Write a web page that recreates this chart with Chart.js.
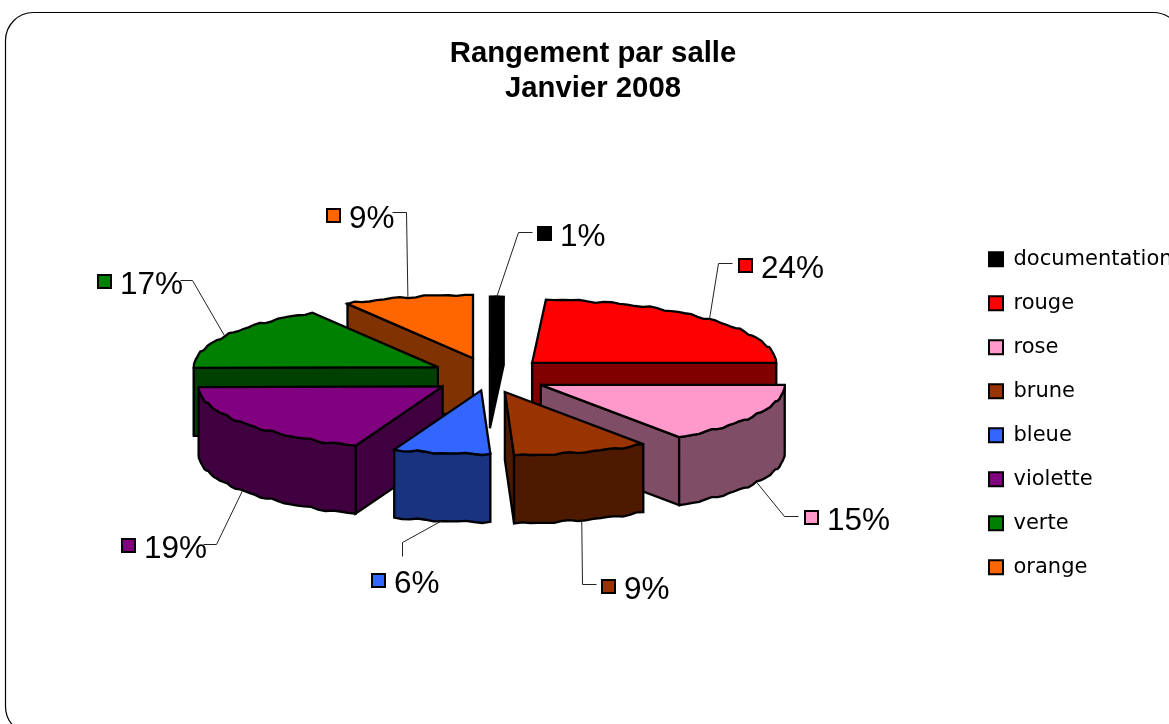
<!DOCTYPE html>
<html><head><meta charset="utf-8">
<style>html,body{margin:0;padding:0;background:#fff;overflow:hidden}canvas{display:block}</style>
<script src="https://cdn.jsdelivr.net/npm/chart.js@4/dist/chart.umd.min.js"></script>
</head><body><canvas id="c" width="1169" height="724"></canvas>
<script>
const titleLines = ["Rangement par salle", "Janvier 2008"];
const categories = ["documentation", "rouge", "rose", "brune", "bleue", "violette", "verte", "orange"];
const shares = [0.9, 24.1, 15.4, 9.0, 6.4, 19, 16.6, 8.6];
const colors = ["#000000", "#ff0000", "#ff99cc", "#993300", "#3366ff", "#800080", "#008000", "#ff6600"];

// drawing style of the tilted, exploded pie
const explode = [50, 60, 59, 52, 45, 56, 58, 58];
const paintOrder = [1, 7, 6, 0, 5, 2, 3, 4];
const TILT = 0.26, EXPLODE_TILT = 0.32, DEPTH = 68, SHIFT_X = -3, SHIFT_Y = -3;
// callout layout: elbow, line end, key corner
const callouts = [
  {e:[518,232], f:[532,232], k:[537,226], top:true},
  {e:[718,263], f:[732,263], k:[738,258], top:true},
  {e:[784,516], f:[798,516], k:[804,510], top:false},
  {e:[582,584], f:[596,584], k:[601,579], top:false},
  {e:[402,542], f:[402,556], k:[371,573], top:false},
  {e:[216,544], f:[203,544], k:[121,538], top:false},
  {e:[192,280], f:[180,280], k:[97,274], top:true},
  {e:[406,212], f:[392,212], k:[326,208], top:true}
];

function shade(hex){
  const n = parseInt(hex.slice(1),16);
  const h = v => Math.round(v/2).toString(16).padStart(2,'0');
  return '#'+h(n>>16&255)+h(n>>8&255)+h(n&255);
}

const pie3d = {
  id:'pie3d',
  afterLayout(chart){
    const l = chart.legend, a = chart.chartArea;
    const dy = (a.top+a.bottom)/2 - (l.top+l.bottom)/2;
    l.top += dy; l.bottom += dy;
  },
  beforeDraw(chart){
    const c = chart.ctx;
    c.save();
    c.fillStyle='#fff'; c.fillRect(0,0,chart.width,chart.height);
    c.strokeStyle='#000'; c.lineWidth=1.2;
    c.beginPath(); c.roundRect(5.5,12.5,1176,722,28); c.stroke();
    c.restore();
  },
  beforeDatasetDraw(chart){
    const c = chart.ctx, meta = chart.getDatasetMeta(0);
    const geom = meta.data.map(el=>{
      const mid=(el.startAngle+el.endAngle)/2, off=el.options.offset;
      return {el, mid, s:el.startAngle, e:el.endAngle, R:el.outerRadius,
        ax: el.x+SHIFT_X+Math.cos(mid)*off,
        ay: el.y-DEPTH/2+SHIFT_Y+Math.sin(mid)*off*EXPLODE_TILT};
    });
    const rim=(g,a,wob=true)=>{
      const w = wob ? 0.7*Math.sin(a*37)+0.5*Math.sin(a*61) : 0;
      return [g.ax+Math.cos(a)*g.R, g.ay+Math.sin(a)*g.R*TILT+w];
    };
    const poly=(pts,fill)=>{
      c.beginPath(); pts.forEach((p,i)=>i?c.lineTo(p[0],p[1]):c.moveTo(p[0],p[1])); c.closePath();
      c.fillStyle=fill; c.fill(); c.stroke();
    };
    const arcPts=(g,a1,a2)=>{
      const pts=[], n=Math.max(1,Math.ceil((a2-a1)/0.035));
      for(let i=0;i<=n;i++){const a=a1+(a2-a1)*i/n; pts.push(rim(g,a,i>0&&i<n));}
      return pts;
    };
    c.save();
    c.strokeStyle='#000'; c.lineWidth=2.3; c.lineJoin='miter'; c.miterLimit=3;
    for(const i of paintOrder){
      const g=geom[i], top=g.el.options.backgroundColor, side=shade(top);
      const wall=(a)=>{const p=rim(g,a,false);
        poly([[g.ax,g.ay],p,[p[0],p[1]+DEPTH],[g.ax,g.ay+DEPTH]],side);};
      if(Math.cos(g.s)<-1e-6) wall(g.s);
      if(Math.cos(g.e)>1e-6) wall(g.e);
      const a1=Math.max(g.s,0), a2=Math.min(g.e,Math.PI);
      if(a1<a2){
        const up=arcPts(g,a1,a2), low=up.slice().reverse().map(p=>[p[0],p[1]+DEPTH]);
        poly(up.concat(low),side);
      }
      poly([[g.ax,g.ay]].concat(arcPts(g,g.s,g.e)),top);
    }
    c.restore();
    // callouts
    c.save();
    const total=shares.reduce((a,b)=>a+b,0);
    geom.forEach((g,i)=>{
      const L=callouts[i], p=rim(g,g.mid,false), y0=p[1]+(L.top?0:DEPTH);
      c.strokeStyle='#222'; c.lineWidth=1;
      c.beginPath(); c.moveTo(p[0],y0); c.lineTo(L.e[0]+.5,L.e[1]+.5); c.lineTo(L.f[0]+.5,L.f[1]+.5); c.stroke();
      c.fillStyle=colors[i]; c.strokeStyle='#000'; c.lineWidth=2;
      c.fillRect(L.k[0]+1,L.k[1]+1,13,13); c.strokeRect(L.k[0]+1,L.k[1]+1,13,13);
      c.fillStyle='#000'; c.font='31.5px "Liberation Sans"'; c.textAlign='left'; c.textBaseline='alphabetic';
      c.fillText(Math.round(shares[i]/total*100)+'%',L.k[0]+23,L.k[1]+20);
    });
    c.restore();
    return false;
  }
};

new Chart(document.getElementById('c'),{
  type:'pie',
  plugins:[pie3d],
  data:{labels:categories,datasets:[{data:shares,backgroundColor:colors,borderColor:'#000',borderWidth:2,offset:explode,radius:244}]},
  options:{
    responsive:false,animation:false,
    layout:{padding:{left:17,top:0,right:0,bottom:4}},
    plugins:{
      tooltip:{enabled:false},
      title:{display:true,text:titleLines,color:'#000',padding:{top:36,bottom:0},
        font:{family:'"Liberation Sans"',size:29.3,weight:'bold',lineHeight:1.2}},
      legend:{position:'right',align:'center',maxWidth:203,
        labels:{color:'#000',boxWidth:14,boxHeight:14,padding:23,
          font:{family:'"DejaVu Sans"',size:21}}}
    }
  }
});
</script></body></html>
